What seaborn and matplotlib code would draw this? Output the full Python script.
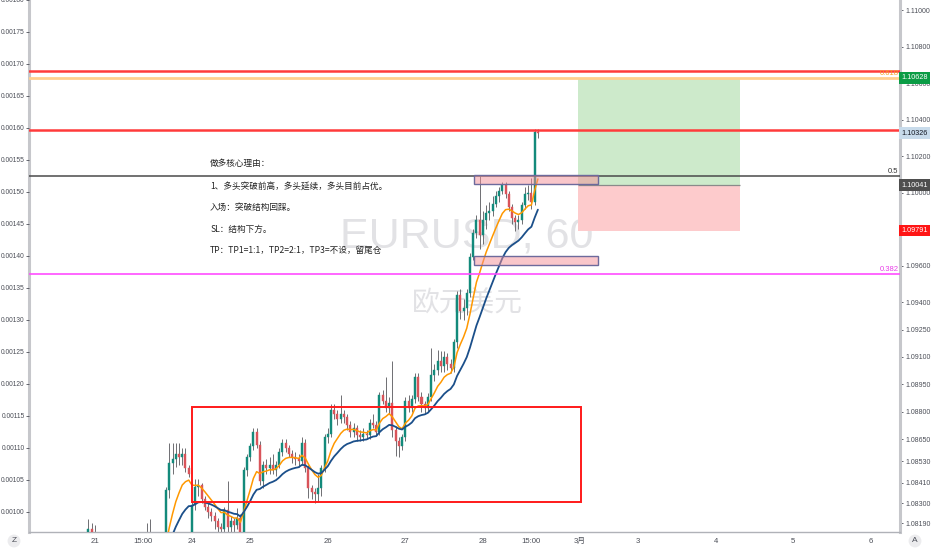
import matplotlib
matplotlib.use("Agg")
import numpy as np
import pandas as pd
import matplotlib.pyplot as plt
import matplotlib.transforms as mtransforms
from matplotlib.patches import Rectangle
import seaborn as sns

# --- DATA: hourly EURUSD bars, bar index 0 = 21日 00:00 ---
bar_start = -20
open_ = [1.0798, 1.0801, 1.0799, 1.0802, 1.0804, 1.0801, 1.0803, 1.0806, 1.0804, 1.0802,
         1.0805, 1.0807, 1.0804, 1.0806, 1.0808, 1.0805, 1.0807, 1.0809, 1.0808, 1.0816,
         1.0813, 1.0805, 1.0800, 1.0797, 1.0794, 1.0796, 1.0793, 1.0791, 1.0794, 1.0796,
         1.0799, 1.0797, 1.0800, 1.0798, 1.0796, 1.0799, 1.0803, 1.0808, 1.0803, 1.0798,
         1.0797, 1.0799, 1.0804, 1.0837, 1.0852, 1.0854, 1.0857, 1.0855, 1.0857, 1.0849,
         1.0800, 1.0829, 1.0839, 1.0840, 1.0832, 1.0828, 1.0825, 1.0823, 1.0820, 1.0817,
         1.0816, 1.0826, 1.0817, 1.0820, 1.0818, 1.0822, 1.0810, 1.0848, 1.0855, 1.0861,
         1.0869, 1.0862, 1.0842, 1.0851, 1.0849, 1.0851, 1.0848, 1.0851, 1.0858, 1.0863,
         1.0860, 1.0857, 1.0855, 1.0854, 1.0853, 1.0863, 1.0849, 1.0838, 1.0836, 1.0835,
         1.0838, 1.0849, 1.0866, 1.0868, 1.0881, 1.0879, 1.0876, 1.0879, 1.0877, 1.0873,
         1.0869, 1.0871, 1.0867, 1.0866, 1.0868, 1.0867, 1.0874, 1.0873, 1.0869, 1.0889,
         1.0886, 1.0882, 1.0885, 1.0870, 1.0864, 1.0861, 1.0866, 1.0886, 1.0882, 1.0887,
         1.0899, 1.0888, 1.0884, 1.0882, 1.0888, 1.0900, 1.0903, 1.0908, 1.0905, 1.0910,
         1.0906, 1.0904, 1.0918, 1.0944, 1.0935, 1.0937, 1.0945, 1.0965, 1.0978, 1.0985,
         1.0977, 1.0985, 1.0989, 1.0990, 1.0994, 1.0998, 1.1001, 1.1004, 1.0999, 1.0992,
         1.0986, 1.0984, 1.0985, 1.0993, 1.0999, 1.1000, 1.0995, 1.1033]
high_ = [1.0803, 1.0805, 1.0804, 1.0806, 1.0807, 1.0805, 1.0808, 1.0809, 1.0807, 1.0806,
         1.0809, 1.0810, 1.0808, 1.0810, 1.0811, 1.0809, 1.0811, 1.0812, 1.0821, 1.0819,
         1.0818, 1.0807, 1.0803, 1.0800, 1.0799, 1.0800, 1.0797, 1.0796, 1.0798, 1.0801,
         1.0803, 1.0802, 1.0804, 1.0802, 1.0801, 1.0804, 1.0819, 1.0821, 1.0808, 1.0801,
         1.0802, 1.0806, 1.0839, 1.0863, 1.0863, 1.0863, 1.0863, 1.0860, 1.0860, 1.0851,
         1.0831, 1.0843, 1.0843, 1.0841, 1.0834, 1.0830, 1.0827, 1.0825, 1.0822, 1.0819,
         1.0828, 1.0842, 1.0823, 1.0822, 1.0827, 1.0824, 1.0850, 1.0857, 1.0863, 1.0871,
         1.0871, 1.0864, 1.0853, 1.0854, 1.0855, 1.0857, 1.0853, 1.0860, 1.0865, 1.0865,
         1.0862, 1.0859, 1.0858, 1.0857, 1.0866, 1.0865, 1.0851, 1.0840, 1.0838, 1.0846,
         1.0851, 1.0868, 1.0871, 1.0884, 1.0884, 1.0881, 1.0889, 1.0881, 1.0879, 1.0875,
         1.0874, 1.0873, 1.0870, 1.0871, 1.0870, 1.0876, 1.0879, 1.0875, 1.0891, 1.0892,
         1.0899, 1.0888, 1.0908, 1.0872, 1.0866, 1.0868, 1.0888, 1.0889, 1.0889, 1.0901,
         1.0901, 1.0891, 1.0886, 1.0890, 1.0915, 1.0906, 1.0914, 1.0913, 1.0913, 1.0912,
         1.0909, 1.0920, 1.0946, 1.0947, 1.0942, 1.0947, 1.0967, 1.0980, 1.0988, 1.1009,
         1.0990, 1.0993, 1.0995, 1.0998, 1.1001, 1.1003, 1.1006, 1.1006, 1.1001, 1.0994,
         1.0988, 1.0988, 1.0995, 1.1003, 1.1004, 1.1008, 1.1035, 1.1035]
low_ = [1.0795, 1.0797, 1.0796, 1.0799, 1.0800, 1.0798, 1.0801, 1.0802, 1.0800, 1.0799,
        1.0802, 1.0803, 1.0801, 1.0803, 1.0804, 1.0802, 1.0804, 1.0805, 1.0806, 1.0810,
        1.0805, 1.0798, 1.0795, 1.0792, 1.0790, 1.0791, 1.0788, 1.0787, 1.0790, 1.0792,
        1.0794, 1.0793, 1.0795, 1.0793, 1.0792, 1.0794, 1.0796, 1.0800, 1.0795, 1.0793,
        1.0793, 1.0795, 1.0800, 1.0833, 1.0846, 1.0850, 1.0851, 1.0851, 1.0847, 1.0844,
        1.0795, 1.0826, 1.0834, 1.0830, 1.0826, 1.0822, 1.0820, 1.0816, 1.0812, 1.0810,
        1.0812, 1.0808, 1.0814, 1.0813, 1.0816, 1.0806, 1.0808, 1.0845, 1.0853, 1.0859,
        1.0860, 1.0840, 1.0838, 1.0846, 1.0846, 1.0846, 1.0845, 1.0849, 1.0856, 1.0858,
        1.0855, 1.0852, 1.0851, 1.0850, 1.0851, 1.0847, 1.0833, 1.0832, 1.0830, 1.0831,
        1.0834, 1.0847, 1.0863, 1.0866, 1.0876, 1.0873, 1.0874, 1.0874, 1.0870, 1.0866,
        1.0866, 1.0864, 1.0864, 1.0864, 1.0865, 1.0865, 1.0871, 1.0867, 1.0867, 1.0884,
        1.0880, 1.0879, 1.0866, 1.0856, 1.0855, 1.0859, 1.0864, 1.0880, 1.0880, 1.0885,
        1.0886, 1.0880, 1.0879, 1.0880, 1.0886, 1.0897, 1.0900, 1.0902, 1.0902, 1.0903,
        1.0901, 1.0902, 1.0915, 1.0931, 1.0930, 1.0933, 1.0943, 1.0963, 1.0975, 1.0969,
        1.0972, 1.0980, 1.0985, 1.0987, 1.0992, 1.0995, 1.0999, 1.0997, 1.0990, 1.0983,
        1.0979, 1.0980, 1.0983, 1.0991, 1.0996, 1.0991, 1.0993, 1.1030]
close_ = [1.0801, 1.0799, 1.0802, 1.0804, 1.0801, 1.0803, 1.0806, 1.0804, 1.0802, 1.0805,
          1.0807, 1.0804, 1.0806, 1.0808, 1.0805, 1.0807, 1.0809, 1.0808, 1.0816, 1.0813,
          1.0805, 1.0800, 1.0797, 1.0794, 1.0796, 1.0793, 1.0791, 1.0794, 1.0796, 1.0799,
          1.0797, 1.0800, 1.0798, 1.0796, 1.0799, 1.0803, 1.0808, 1.0803, 1.0798, 1.0797,
          1.0799, 1.0804, 1.0837, 1.0852, 1.0854, 1.0857, 1.0855, 1.0857, 1.0849, 1.0846,
          1.0829, 1.0839, 1.0840, 1.0832, 1.0828, 1.0825, 1.0823, 1.0820, 1.0817, 1.0816,
          1.0826, 1.0817, 1.0820, 1.0818, 1.0822, 1.0810, 1.0848, 1.0855, 1.0861, 1.0869,
          1.0862, 1.0842, 1.0851, 1.0849, 1.0851, 1.0848, 1.0851, 1.0858, 1.0863, 1.0860,
          1.0857, 1.0855, 1.0854, 1.0853, 1.0863, 1.0849, 1.0838, 1.0836, 1.0835, 1.0838,
          1.0849, 1.0866, 1.0868, 1.0881, 1.0879, 1.0876, 1.0879, 1.0877, 1.0873, 1.0869,
          1.0871, 1.0867, 1.0866, 1.0868, 1.0867, 1.0874, 1.0873, 1.0869, 1.0889, 1.0886,
          1.0882, 1.0885, 1.0870, 1.0864, 1.0861, 1.0866, 1.0886, 1.0882, 1.0887, 1.0899,
          1.0888, 1.0884, 1.0882, 1.0888, 1.0900, 1.0903, 1.0908, 1.0905, 1.0910, 1.0906,
          1.0904, 1.0918, 1.0944, 1.0935, 1.0937, 1.0945, 1.0965, 1.0978, 1.0985, 1.0977,
          1.0985, 1.0989, 1.0990, 1.0994, 1.0998, 1.1001, 1.1004, 1.0999, 1.0992, 1.0986,
          1.0984, 1.0985, 1.0993, 1.0999, 1.1000, 1.0995, 1.1033, 1.10326]

# horizontal lines
red_levels = [1.10666, 1.10343]
fib_ratios = ["0.382", "0.5", "0.618"]
fib_prices = [1.09554, 1.10090, 1.10628]

# drawings (bar index / price)
zone_bars = [30.0, 150.3]
zone_prices = [1.08306, 1.08826]
pink_bars = [117.2, 155.6]
pink_prices = [(1.10045, 1.10096), (1.09604, 1.09653)]
pos_bars = [149.4, 199.5]
entry_price, tp_price, sl_price = 1.10041, 1.10628, 1.09791

# axis ticks
time_ticks = [0, 15, 30, 48, 72, 96, 120, 135, 150, 168, 192, 216, 240]
time_labels = ["21", "15:00", "24", "25", "26", "27", "28", "15:00", "3月", "3", "4", "5", "6"]
price_ticks = [1.11000, 1.10800, 1.10600, 1.10400, 1.10200, 1.10000, 1.09600,
               1.09400, 1.09250, 1.09100, 1.08950, 1.08800, 1.08650, 1.08530, 1.08410,
               1.08300, 1.08190]
left_ticks = [0.00100, 0.00105, 0.00110, 0.00115, 0.00120, 0.00125, 0.00130, 0.00135,
              0.00140, 0.00145, 0.00150, 0.00155, 0.00160, 0.00165, 0.00170, 0.00175, 0.00180]
tag_prices = [1.10628, 1.10326, 1.10041, 1.09791]
tag_colors = ["#0a9c45", "#c8dbeb", "#4e4e4e", "#ff1515"]
tag_text_colors = ["white", "#131722", "white", "white"]

notes = ["做多核心理由：",
         "1、多头突破前高，多头延续，多头目前占优。",
         "入场：突破结构回踩。",
         "SL：结构下方。",
         "TP：TP1=1:1，TP2=2:1，TP3=不设，留尾仓"]
note_prices = [1.10157, 1.10031, 1.09916, 1.09801, 1.09686]

UP, DOWN, WICK = "#138a7b", "#d9545a", "#6e6e72"
GRID_GRAY = "#c6c7cb"
TICK_FONT = ["Liberation Sans Narrow", "Liberation Sans", "Noto Sans CJK SC"]
AX_FS = 5.0

# --- STYLE ---
sns.set_style("white")
plt.rcParams["font.family"] = TICK_FONT
CJK = ["Noto Sans CJK SC", "DejaVu Sans"]

df = pd.DataFrame({"bar": np.arange(bar_start, bar_start + len(close_)),
                   "open": open_, "high": high_, "low": low_, "close": close_})
df["ema_fast"] = df["close"].ewm(span=9, adjust=False).mean()
df["ema_slow"] = df["close"].ewm(span=20, adjust=False).mean()

fig = plt.figure(figsize=(9.32, 5.5), dpi=100)
ax = fig.add_axes([29 / 932, 18 / 550, 871 / 932, 532 / 550])
ax.set_xlim(-20.4, 249.0)
ax.set_ylim(1.081413, 1.110548)

# left scale (twin made first, price ticks moved back to the right below)
axl = ax.twinx()
axl.set_ylim(0.00096875, 0.00180)
axl.yaxis.tick_left()
axl.set_yticks(left_ticks)
axl.set_yticklabels([f"{v:.5f}" for v in left_ticks])
axl.tick_params(axis="y", labelsize=4.8, colors="#4b4e57", length=2, width=0.6, pad=1.0)
for s in axl.spines.values():
    s.set_visible(False)

# watermark
ax.text(0.503, 0.556, "EURUSD, 60", transform=ax.transAxes, ha="center", va="center",
        fontsize=31, color="#e2e2e5", zorder=0)
ax.text(0.503, 0.430, "欧元美元", transform=ax.transAxes, ha="center", va="center",
        fontsize=20, color="#e2e2e5", family=CJK, zorder=0)

# position tool
ax.add_patch(Rectangle((pos_bars[0], entry_price), pos_bars[1] - pos_bars[0], tp_price - entry_price,
                       facecolor="#cdeacb", edgecolor="none", zorder=1))
ax.add_patch(Rectangle((pos_bars[0], sl_price), pos_bars[1] - pos_bars[0], entry_price - sl_price,
                       facecolor="#fdcbcc", edgecolor="none", zorder=1))
ax.hlines(entry_price, pos_bars[0], pos_bars[1], color="#8a8a8a", lw=0.9, zorder=1)

# candles
up = df["close"] >= df["open"]
colors = np.where(up, UP, DOWN)
ax.vlines(df["bar"], df["low"], df["high"], color=WICK, linewidth=0.7, zorder=2)
body = (df["close"] - df["open"]).abs().clip(lower=0.00004)
ax.bar(df["bar"], body, bottom=np.minimum(df["open"], df["close"]), width=0.62,
       color=colors, edgecolor=colors, linewidth=0.3, zorder=3)

# moving averages
sns.lineplot(data=df, x="bar", y="ema_fast", ax=ax, color="#ff9800", lw=1.1, zorder=4, legend=False)
sns.lineplot(data=df, x="bar", y="ema_slow", ax=ax, color="#1b4f8a", lw=1.3, zorder=4, legend=False)

# horizontal levels
trans = mtransforms.blended_transform_factory(ax.transAxes, ax.transData)
fib_line_colors = ["#ff4dff", "#4a4a4a", "#ffcf8f"]
fib_text_colors = ["#e83ce8", "#333333", "#f5a020"]
fib_widths = [1.2, 1.1, 2.0]
for ratio, price, lc, tc, lw in zip(fib_ratios, fib_prices, fib_line_colors, fib_text_colors, fib_widths):
    ax.axhline(price, color=lc, lw=lw, zorder=5)
    ax.text(0.998, price + 0.00004, ratio, transform=trans, ha="right", va="bottom",
            fontsize=5.5, color=tc, zorder=6)
for price in red_levels:
    ax.axhline(price, color="#ff3b3b", lw=1.8, zorder=5)

# rectangles
ax.add_patch(Rectangle((zone_bars[0], zone_prices[0]), zone_bars[1] - zone_bars[0],
                       zone_prices[1] - zone_prices[0], fill=False, edgecolor="#ff1a1a", lw=1.4, zorder=6))
for lo, hi in pink_prices:
    ax.add_patch(Rectangle((pink_bars[0], lo), pink_bars[1] - pink_bars[0], hi - lo,
                           facecolor="#f58e96", alpha=0.5, edgecolor="none", zorder=6))
    ax.add_patch(Rectangle((pink_bars[0], lo), pink_bars[1] - pink_bars[0], hi - lo,
                           fill=False, edgecolor="#6d6a9c", lw=1.0, zorder=6))

# notes
for txt, price in zip(notes, note_prices):
    ax.text(35.6, price, txt, ha="left", va="center", fontsize=6.2, color="#222222",
            family=CJK, zorder=7)

# axes: price on the right
ax.set_xlabel("")
ax.set_ylabel("")
ax.yaxis.tick_right()
ax.yaxis.set_label_position("right")
ax.set_yticks(price_ticks)
ax.set_yticklabels([f"{p:.5f}" for p in price_ticks])
ax.set_xticks(time_ticks)
ax.set_xticklabels(time_labels)
ax.tick_params(axis="both", labelsize=AX_FS, colors="#4b4e57", length=2.5, width=0.6, pad=1.2)
ax.tick_params(axis="x", labelsize=5.6, pad=2)
ax.tick_params(axis="y", left=False, labelleft=False, right=True, labelright=True)
for side in ["left", "right"]:
    ax.spines[side].set_color(GRID_GRAY)
    ax.spines[side].set_linewidth(2.2)
ax.spines["bottom"].set_color("#b0b2b8")
ax.spines["bottom"].set_linewidth(1.0)
ax.spines["top"].set_visible(False)

# price tags on the right scale
for price, fc, tc in zip(tag_prices, tag_colors, tag_text_colors):
    ax.text(1.0018, price, f"{price:.5f}", transform=trans, ha="left", va="center",
            fontsize=5.2, color=tc, zorder=10, clip_on=False,
            bbox=dict(boxstyle="square,pad=0.3", fc=fc, ec="none"))

# corner buttons
for xf, letter in [(14 / 932, "Z"), (915 / 932, "A")]:
    fig.text(xf, 9 / 550, letter, ha="center", va="center", fontsize=6, color="#4b4e57",
             bbox=dict(boxstyle="circle,pad=0.35", fc="#ececee", ec="none"))

fig.savefig("out.png", dpi=100, facecolor="white")
